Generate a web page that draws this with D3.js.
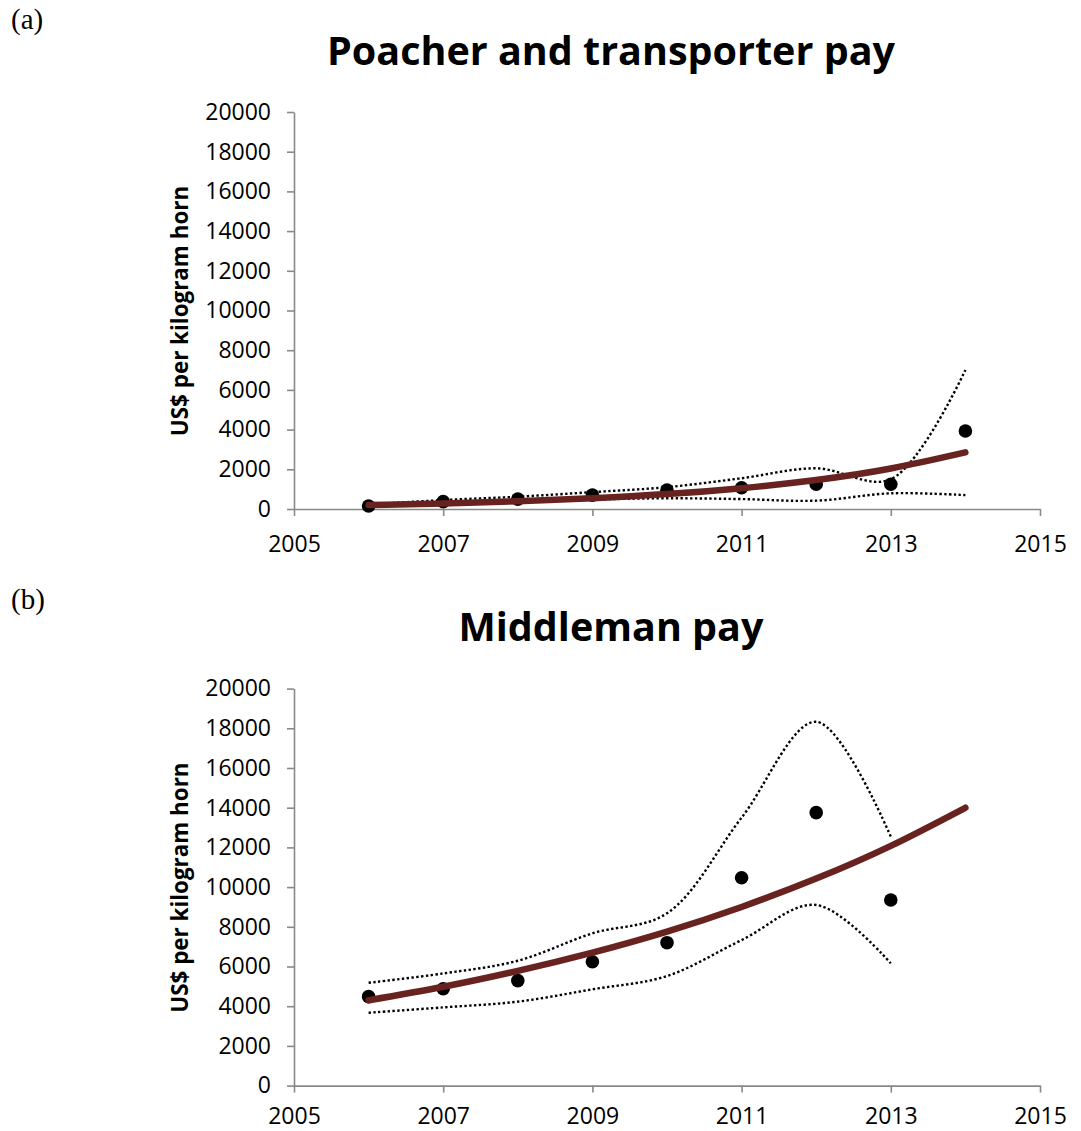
<!doctype html>
<html>
<head>
<meta charset="utf-8">
<script src="https://cdnjs.cloudflare.com/ajax/libs/d3/7.8.5/d3.min.js"></script>
<style>
  body { margin: 0; background: #fff; }
  svg { display: block; }
  .tick text { font-family: "Open Sans", sans-serif; font-size: 23px; fill: #000; }
  .domain, .tick line { stroke: #898989; stroke-width: 1.6; }
</style>
</head>
<body>
<svg width="1081" height="1131"></svg>
<script>
// --- data ---
var years = [2006, 2007, 2008, 2009, 2010, 2011, 2012, 2013, 2014];
var poacherPay   = [150, 370, 500, 700, 950, 1070, 1250, 1250, 3930];
var poacherTrend = [200, 280, 390, 540, 750, 1050, 1460, 2040, 2850];
var poacherUpper = [230, 450, 620, 850, 1100, 1550, 2050, 1500, 7000];
var poacherLower = [120, 270, 400, 480, 540, 500, 420, 790, 700];

var midYears = [2006, 2007, 2008, 2009, 2010, 2011, 2012, 2013];
var middlemanPay   = [4480, 4880, 5290, 6240, 7200, 10470, 13750, 9350];
var middlemanTrend = [4300, 4980, 5780, 6700, 7760, 9000, 10430, 12080, 14000];
var middlemanUpper = [5180, 5650, 6290, 7670, 8680, 13500, 18330, 12540];
var middlemanLower = [3670, 3940, 4230, 4850, 5520, 7330, 9100, 6160];

var xTicks = [2005, 2007, 2009, 2011, 2013, 2015];
var yTicks = [0, 2000, 4000, 6000, 8000, 10000, 12000, 14000, 16000, 18000, 20000];

var svg = d3.select("svg");

function zip(xs, ys) { return xs.map(function(x, i) { return [x, ys[i]]; }); }

function panel(cfg) {
  var x = d3.scaleLinear().domain([2005, 2015]).range([294, 1040]);
  var y = d3.scaleLinear().domain([0, 20000]).range([cfg.bottom, cfg.bottom - 397]);
  var g = svg.append("g");

  g.append("text").attr("x", 11).attr("y", cfg.labelY)
    .style("font-family", "'Liberation Serif', serif").style("font-size", "29px")
    .text(cfg.letter);

  g.append("text").attr("x", 611).attr("y", cfg.titleY).attr("text-anchor", "middle")
    .style("font-family", "'Open Sans', sans-serif").style("font-weight", "bold")
    .style("font-size", "39.5px").text(cfg.title);

  g.append("text")
    .attr("transform", "translate(188," + (cfg.bottom - 198) + ") rotate(-90)")
    .attr("text-anchor", "middle")
    .style("font-family", "'Open Sans', sans-serif").style("font-weight", "bold")
    .style("font-size", "22.4px").text("US$ per kilogram horn");

  g.append("g").attr("transform", "translate(294,0)")
    .call(d3.axisLeft(y).tickValues(yTicks).tickSize(7).tickSizeOuter(0).tickPadding(16)
      .tickFormat(d3.format("d")));

  g.append("g").attr("transform", "translate(0," + cfg.bottom + ")")
    .call(d3.axisBottom(x).tickValues(xTicks).tickSize(7).tickSizeOuter(0).tickPadding(cfg.xPad)
      .tickFormat(d3.format("d")));

  var line = d3.line().x(function(d) { return x(d[0]); }).y(function(d) { return y(d[1]); })
    .curve(d3.curveCatmullRom.alpha(0.5));

  [cfg.upper, cfg.lower].forEach(function(s) {
    g.append("path").datum(zip(cfg.ciYears, s)).attr("d", line)
      .attr("fill", "none").attr("stroke", "#000").attr("stroke-width", 2.4)
      .attr("stroke-dasharray", "2.4,2.4");
  });

  g.selectAll("circle.pt").data(zip(cfg.ptYears, cfg.pay)).enter().append("circle")
    .attr("class", "pt").attr("cx", function(d) { return x(d[0]); })
    .attr("cy", function(d) { return y(d[1]); }).attr("r", 6.8).attr("fill", "#000");

  var trendLine = d3.line().x(function(d) { return x(d[0]); }).y(function(d) { return y(d[1]); })
    .curve(d3.curveNatural);
  g.append("path").datum(zip(years, cfg.trend)).attr("d", trendLine)
    .attr("fill", "none").attr("stroke", "#68221f").attr("stroke-width", 6.5)
    .attr("stroke-linecap", "round");
}

panel({ letter: "(a)", labelY: 29, title: "Poacher and transporter pay", titleY: 65, bottom: 509,
  xPad: 20, ptYears: years, pay: poacherPay, trend: poacherTrend, ciYears: years,
  upper: poacherUpper, lower: poacherLower });

panel({ letter: "(b)", labelY: 609, title: "Middleman pay", titleY: 641, bottom: 1085.6,
  xPad: 15, ptYears: midYears, pay: middlemanPay, trend: middlemanTrend, ciYears: midYears,
  upper: middlemanUpper, lower: middlemanLower });
</script>
</body>
</html>
